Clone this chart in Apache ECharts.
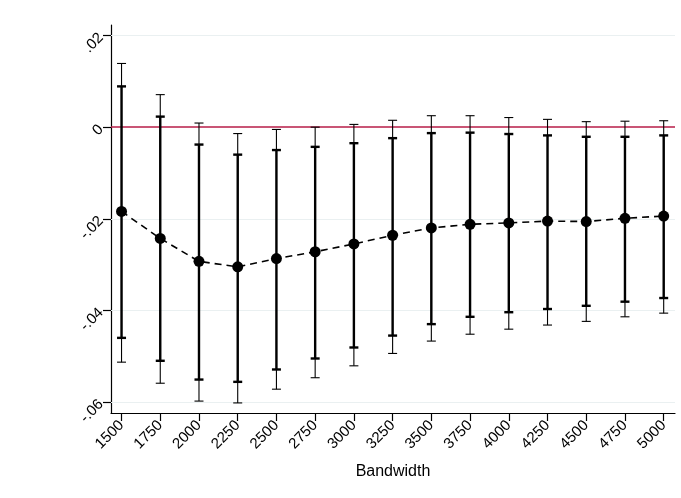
<!DOCTYPE html>
<html>
<head>
<meta charset="utf-8">
<script src="https://cdn.jsdelivr.net/npm/echarts@6/dist/echarts.min.js"></script>
<style>html,body{margin:0;padding:0;background:#fff}#c{width:681px;height:498px}</style>
</head>
<body>
<div id="c"></div>
<script>
var bandwidth = [1500,1750,2000,2250,2500,2750,3000,3250,3500,3750,4000,4250,4500,4750,5000];
var estimate  = [-0.0184,-0.0243,-0.0293,-0.0305,-0.0287,-0.0272,-0.0255,-0.0236,-0.0220,-0.0212,-0.0209,-0.0205,-0.0206,-0.0199,-0.0194];
var innerLow  = [-0.0460,-0.0510,-0.0551,-0.0556,-0.0529,-0.0505,-0.0481,-0.0455,-0.0430,-0.0414,-0.0404,-0.0397,-0.0390,-0.0381,-0.0373];
var innerHigh = [0.0089,0.0023,-0.0038,-0.0060,-0.0050,-0.0043,-0.0035,-0.0024,-0.0013,-0.0012,-0.0015,-0.0018,-0.0021,-0.0021,-0.0018];
var outerLow  = [-0.0513,-0.0559,-0.0598,-0.0602,-0.0572,-0.0547,-0.0521,-0.0494,-0.0467,-0.0452,-0.0441,-0.0432,-0.0424,-0.0414,-0.0406];
var outerHigh = [0.0139,0.0071,0.0009,-0.0014,-0.0005,0.0000,0.0006,0.0015,0.0025,0.0025,0.0021,0.0017,0.0012,0.0013,0.0014];
var yTicks = [0.02,0,-0.02,-0.04,-0.06];
var xTitle = 'Bandwidth';

var FONT = '"Liberation Sans", Arial, sans-serif';
function fmtY(v){
  if (Math.abs(v) < 1e-9) return '0';
  var s = v.toFixed(2);
  return s.replace(/^(-?)0\./, '$1.');
}
function errSeries(lo, hi, width, cap){
  return {
    type: 'custom',
    data: bandwidth.map(function(b,i){ return [b, lo[i], hi[i]]; }),
    encode: {x: 0, y: [1,2]},
    z: 3,
    silent: true,
    renderItem: function(params, api){
      var x = api.value(0);
      var p1 = api.coord([x, api.value(1)]);
      var p2 = api.coord([x, api.value(2)]);
      var st = {stroke: '#000', lineWidth: width};
      return {type: 'group', children: [
        {type: 'line', shape: {x1: p1[0], y1: p1[1], x2: p2[0], y2: p2[1]}, style: st},
        {type: 'line', shape: {x1: p1[0]-cap, y1: p1[1], x2: p1[0]+cap, y2: p1[1]}, style: {stroke:'#000', lineWidth: width}},
        {type: 'line', shape: {x1: p2[0]-cap, y1: p2[1], x2: p2[0]+cap, y2: p2[1]}, style: {stroke:'#000', lineWidth: width}}
      ]};
    }
  };
}
var gridLines = yTicks.filter(function(v){return v !== 0;}).map(function(v){
  return {yAxis: v, lineStyle: {color: '#eaf0f1', width: 1.2, type: 'solid'}};
});
gridLines.push({yAxis: 0, lineStyle: {color: '#b71c47', width: 1.5, type: 'solid'}});

var chart = echarts.init(document.getElementById('c'), null, {renderer: 'canvas'});
chart.setOption({
  animation: false,
  backgroundColor: '#fff',
  textStyle: {fontFamily: FONT},
  grid: {left: 111, right: 6, top: 25, bottom: 85, containLabel: false},
  xAxis: {
    type: 'value', min: 1432, max: 5073,
    name: xTitle, nameLocation: 'middle', nameGap: 51,
    nameTextStyle: {fontFamily: FONT, fontSize: 16, color: '#000'},
    axisLine: {show: true, onZero: false, lineStyle: {color: '#000', width: 1.2}},
    axisTick: {show: true, length: 8, customValues: bandwidth, lineStyle: {color: '#000', width: 1.2}},
    axisLabel: {customValues: bandwidth, rotate: 45, fontFamily: FONT, fontSize: 15, color: '#000', margin: 10, formatter: function(v){return String(v);}},
    splitLine: {show: false}
  },
  yAxis: {
    type: 'value', min: -0.0624, max: 0.0223,
    axisLine: {show: true, onZero: false, lineStyle: {color: '#000', width: 1.2}},
    axisTick: {show: true, length: 8, customValues: yTicks, lineStyle: {color: '#000', width: 1.2}},
    axisLabel: {customValues: yTicks, rotate: 45, fontFamily: FONT, fontSize: 15, color: '#000', margin: 10, formatter: fmtY},
    splitLine: {show: false}
  },
  series: [
    {
      type: 'line', data: [], silent: true,
      markLine: {silent: true, symbol: 'none', label: {show: false}, data: gridLines, z: 1}
    },
    errSeries(outerLow, outerHigh, 1.1, 4.5),
    errSeries(innerLow, innerHigh, 2.4, 4.5),
    {
      type: 'line', z: 5,
      data: bandwidth.map(function(b,i){ return [b, estimate[i]]; }),
      symbol: 'circle', symbolSize: 11,
      itemStyle: {color: '#000'},
      lineStyle: {color: '#000', width: 1.6, type: [7,5]}
    }
  ]
});
</script>
</body>
</html>
